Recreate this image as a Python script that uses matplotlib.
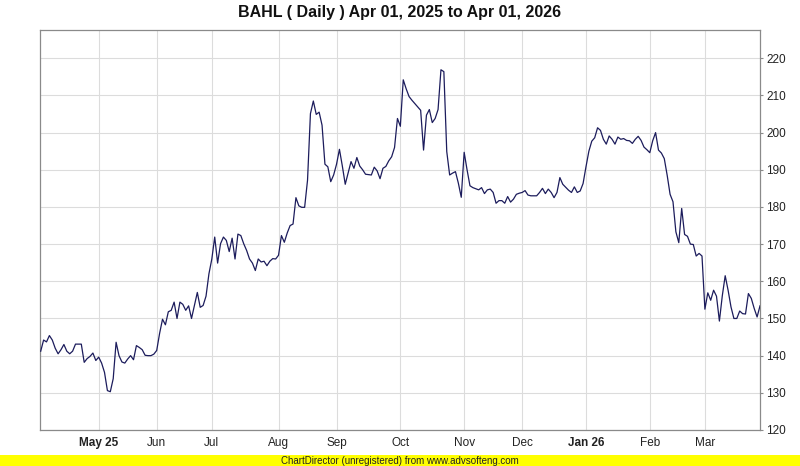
"""BAHL daily close, Apr 2025 - Apr 2026, in the ChartDirector look."""
import numpy as np
import matplotlib
matplotlib.use("Agg")
import matplotlib.pyplot as plt
from matplotlib.patches import Rectangle

TITLE = "BAHL ( Daily ) Apr 01, 2025 to Apr 01, 2026"
FOOTER = "ChartDirector (unregistered) from www.advsofteng.com"

month_labels = ["May 25", "Jun", "Jul", "Aug", "Sep", "Oct", "Nov", "Dec", "Jan 26", "Feb", "Mar"]
bold_labels = ["May 25", "Jan 26"]
# trading days in each month, Apr 2025 .. Mar 2026
trading_days_per_month = [20, 20, 19, 23, 20, 22, 22, 20, 22, 22, 19, 20]
y_ticks = list(range(120, 230, 10))

close = [
    141.2, 144.2, 143.7, 145.4, 144.2, 142.0, 140.5, 141.6, 143.0, 141.2,
    140.5, 141.2, 143.1, 143.1, 143.1, 138.2, 139.2, 139.8, 140.7, 138.7,
    139.6, 138.0, 135.5, 130.6, 130.3, 133.8, 143.6, 140.0, 138.3, 138.0,
    139.1, 140.0, 138.9, 142.7, 142.2, 141.6, 140.1, 140.0, 140.0, 140.4,
    141.4, 146.0, 149.8, 148.3, 151.8, 152.2, 154.4, 150.0, 154.4, 153.8,
    152.2, 153.4, 150.0, 153.5, 157.0, 153.0, 153.5, 156.0, 162.0, 166.0,
    171.9, 164.9, 170.1, 171.9, 171.0, 168.0, 171.6, 166.0, 172.7, 172.3,
    170.1, 168.3, 166.0, 164.9, 162.9, 166.0, 165.2, 165.4, 164.2, 165.4,
    166.1, 166.0, 167.0, 172.3, 170.5, 173.0, 175.0, 175.4, 182.5, 180.3,
    179.9, 179.9, 187.2, 205.1, 208.5, 204.9, 205.5, 202.0, 191.5, 190.8,
    186.8, 188.6, 191.5, 195.5, 191.0, 186.1, 189.1, 192.2, 190.4, 193.3,
    191.0, 190.0, 188.8, 188.7, 188.6, 190.7, 189.7, 187.6, 190.4, 190.9,
    192.4, 193.5, 196.0, 203.8, 201.7, 214.2, 211.8, 209.7, 208.7, 207.8,
    206.9, 206.0, 195.3, 204.7, 206.2, 202.7, 203.8, 206.2, 216.9, 216.4,
    194.9, 188.6, 189.1, 189.5, 186.4, 182.6, 194.7, 190.0, 185.7, 185.2,
    184.9, 184.6, 185.2, 183.6, 184.6, 184.8, 183.9, 181.0, 181.7, 181.7,
    181.0, 182.8, 181.3, 182.1, 183.4, 183.7, 183.9, 184.4, 183.2, 183.0,
    183.0, 183.0, 183.9, 185.0, 183.6, 184.8, 183.9, 182.5, 183.9, 187.9,
    186.1, 185.3, 184.5, 183.9, 185.4, 183.9, 184.3, 186.3, 190.8, 195.0,
    197.7, 198.6, 201.3, 200.6, 198.2, 196.9, 199.1, 198.2, 196.9, 198.8,
    198.2, 198.4, 197.9, 197.8, 197.1, 198.2, 199.0, 197.9, 196.1, 195.4,
    194.6, 197.8, 200.0, 195.3, 194.5, 193.0, 188.5, 183.4, 181.4, 173.3,
    170.4, 179.6, 172.6, 172.1, 170.0, 169.9, 166.8, 167.5, 166.8, 152.5,
    156.9, 154.9, 157.6, 156.0, 149.3, 156.1, 161.5, 157.6, 153.1, 150.0,
    150.0, 152.0, 151.3, 151.2, 156.7, 155.4, 152.7, 150.4, 153.4,
]

NARROW = ["Liberation Sans Narrow", "Liberation Sans", "DejaVu Sans"]
W, H = 800, 466


def main():
    fig = plt.figure(figsize=(W / 100, H / 100), dpi=100)
    fig.patch.set_facecolor("white")

    # plot area 40..760 x 30..430 (pixels)
    ax = fig.add_axes([40 / W, (H - 430) / H, 720 / W, 400 / H])

    x = np.arange(len(close))
    ax.plot(x, close, color="#1c1c5c", linewidth=0.9, zorder=3)

    month_start = np.cumsum(trading_days_per_month)[:-1]
    ax.set_xticks(month_start)
    ax.set_xticklabels(month_labels)
    ax.set_yticks(y_ticks)

    ax.set_xlim(-0.24, len(close) - 1)
    ax.set_ylim(120, 227.6)

    ax.grid(True, color="#dcdcdc", linewidth=0.8, zorder=0)
    ax.set_axisbelow(True)
    for sp in ax.spines.values():
        sp.set_color("#8a8a8a")
        sp.set_linewidth(0.9)

    ax.yaxis.tick_right()
    ax.tick_params(axis="y", length=2.5, width=0.8, color="#8a8a8a", pad=2,
                   labelsize=8.5, labelcolor="#222222")
    ax.tick_params(axis="x", length=0, pad=5, labelsize=8.5, labelcolor="#222222")
    for lab in ax.get_xticklabels() + ax.get_yticklabels():
        lab.set_family(NARROW)
    for lab in ax.get_xticklabels():
        if lab.get_text() in bold_labels:
            lab.set_fontweight("bold")

    fig.text(0.5, 1 - 12.5 / H, TITLE, ha="center", va="center",
             fontsize=11.5, fontweight="bold", family=NARROW, color="#111111")

    fig.add_artist(Rectangle((0, 0), 1, 11 / H, transform=fig.transFigure,
                             facecolor="#ffff00", edgecolor="none"))
    fig.text(0.5, 5.5 / H, FOOTER, ha="center", va="center",
             fontsize=7, family=NARROW, color="#222222")

    fig.savefig("out.png", dpi=100)


if __name__ == "__main__":
    main()
